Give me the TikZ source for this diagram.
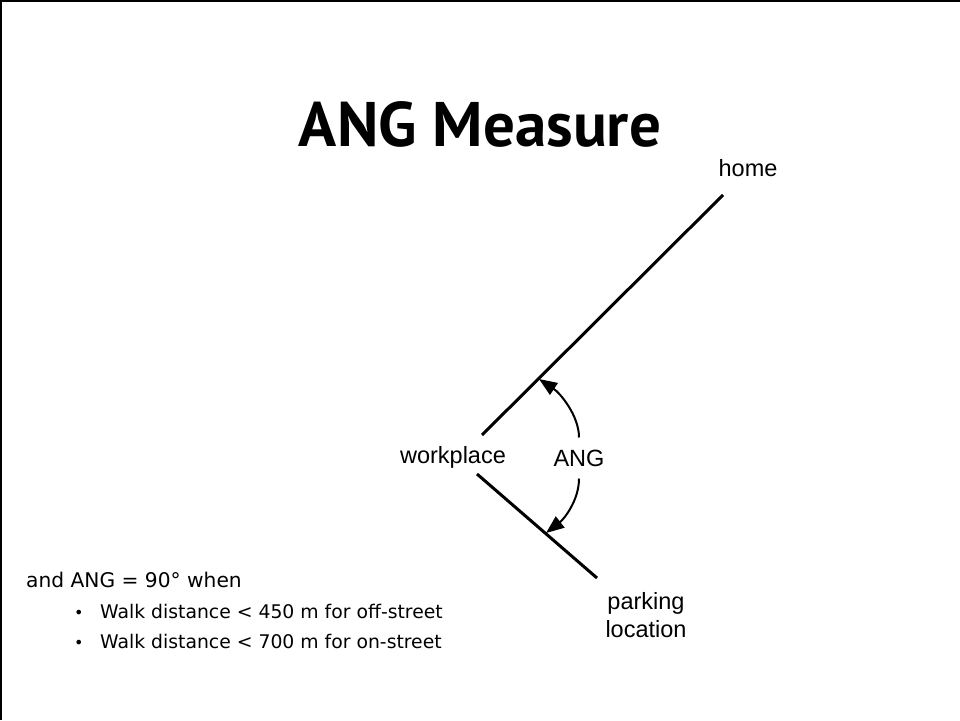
\documentclass[tikz,border=0pt]{standalone}
\usepackage{fontspec}
\setmainfont{Liberation Sans}
\newfontfamily\headfont{PT Sans}
\newfontfamily\notefont{DejaVu Sans}
\usetikzlibrary{arrows.meta}

\begin{document}
\begin{tikzpicture}[x=1pt, y=-1pt,
  place/.style={font=\fontsize{23.5}{28}\selectfont, align=center, inner sep=0pt},
  note/.style={font=\notefont\fontsize{18.8}{22}\selectfont, inner sep=0pt, anchor=base west},
  leg/.style={line width=3pt},
  sweep/.style={line width=2pt, -{Triangle[length=18pt,width=14pt]}}]
\useasboundingbox (0,0) rectangle (960,720);
\draw[line width=2pt] (1,720) -- (1,1) -- (960,1);
\node (title) at (480,124) {\headfont\bfseries\fontsize{63}{75}\selectfont ANG Measure};
% the two legs of the angle
\coordinate (homeend) at (723,195);
\coordinate (workup) at (482,435);
\coordinate (worklow) at (477,474);
\coordinate (parkend) at (597,578);
\draw[leg] (homeend) -- (workup);
\draw[leg] (worklow) -- (parkend);
\node[place] (home) at (748,168) {home};
\node[place] (work) at (453,457) {workplace};
\node[place, inner ysep=12pt] (ang) at (579,458) {ANG};
\node[place, anchor=north] (park) at (646,592) {parking\\location};
% ANG sweeps
\coordinate (tipup) at (539,379);
\coordinate (tiplow) at (546,533);
\draw[sweep] (ang.north) .. controls +(0,-22) and (560,393) .. (tipup);
\draw[sweep] (ang.south) .. controls +(0,22) and (564,519) .. (tiplow);
% conditions
\node[note, font=\notefont\fontsize{20.2}{24}\selectfont] (cond) at (26,587) {and ANG = 90° when};
\node[note] (offst) at (74,618) {\makebox[26pt][l]{\fontsize{16}{16}\selectfont •}Walk distance < 450 m for off-street};
\node[note] (onst) at (74,648) {\makebox[26pt][l]{\fontsize{16}{16}\selectfont •}Walk distance < 700 m for on-street};
\end{tikzpicture}
\end{document}
